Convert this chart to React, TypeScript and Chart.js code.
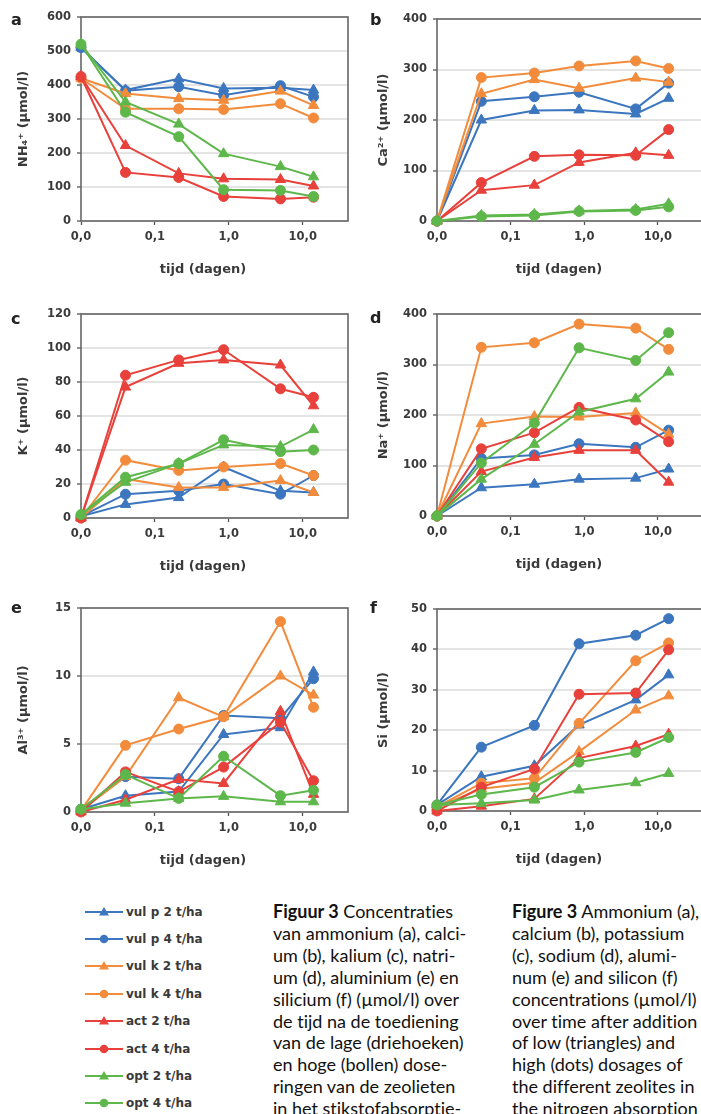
import React, { useEffect, useRef } from 'react';
import { Chart, registerables } from 'chart.js';

Chart.register(...registerables);

// ---------- data ----------
const times = [0.01, 0.04, 0.21, 0.85, 5, 14];
const xTickValues = [0.01, 0.1, 1, 10];
const xTickLabels = ['0,0', '0,1', '1,0', '10,0'];

const seriesNames = [
  'vul p 2 t/ha',
  'vul p 4 t/ha',
  'vul k 2 t/ha',
  'vul k 4 t/ha',
  'act 2 t/ha',
  'act 4 t/ha',
  'opt 2 t/ha',
  'opt 4 t/ha',
];
const seriesColors = ['#3b76bf', '#3b76bf', '#f28c3c', '#f28c3c', '#e8403a', '#e8403a', '#5db74a', '#5db74a'];
const seriesMarkers = ['triangle', 'circle', 'triangle', 'circle', 'triangle', 'circle', 'triangle', 'circle'];

const nh4Values = [
  [510, 385, 418, 390, 392, 385],
  [510, 383, 395, 370, 398, 365],
  [420, 375, 360, 355, 382, 340],
  [420, 330, 330, 328, 345, 303],
  [425, 222, 140, 124, 122, 103],
  [425, 143, 128, 72, 65, 70],
  [520, 350, 285, 198, 160, 130],
  [520, 320, 248, 92, 90, 72],
];
const caValues = [
  [0, 200, 219, 220, 212, 243],
  [0, 237, 246, 255, 222, 273],
  [0, 252, 280, 263, 283, 275],
  [0, 284, 293, 307, 317, 302],
  [0, 61, 71, 116, 135, 130],
  [0, 76, 128, 131, 130, 181],
  [0, 11, 13, 20, 23, 34],
  [0, 9, 11, 19, 21, 28],
];
const kValues = [
  [1, 8, 12, 30, 16, 15],
  [1, 14, 16, 20, 14, 25],
  [0, 23, 18, 18, 22, 15],
  [0, 34, 28, 30, 32, 25],
  [0, 77, 91, 93, 90, 66],
  [0, 84, 93, 99, 76, 71],
  [2, 21, 32, 43, 42, 52],
  [2, 24, 32, 46, 39, 40],
];
const naValues = [
  [0, 56, 63, 73, 75, 93],
  [0, 114, 121, 143, 136, 170],
  [0, 183, 197, 196, 204, 162],
  [0, 334, 343, 380, 372, 330],
  [0, 88, 116, 130, 130, 67],
  [0, 133, 165, 215, 190, 147],
  [0, 73, 142, 206, 232, 285],
  [0, 105, 184, 333, 308, 363],
];
const alValues = [
  [0.2, 1.2, 1.5, 5.7, 6.2, 10.3],
  [0.2, 2.6, 2.45, 7.1, 6.9, 9.8],
  [0.1, 2.6, 8.4, 7.0, 10.0, 8.6],
  [0.1, 4.9, 6.1, 7.0, 14.0, 7.7],
  [0, 0.9, 2.4, 2.1, 7.4, 1.3],
  [0, 2.95, 1.5, 3.3, 6.6, 2.3],
  [0.2, 0.65, 1.0, 1.15, 0.75, 0.75],
  [0.2, 2.75, 1.0, 4.1, 1.2, 1.6],
];
const siValues = [
  [1.5, 8.5, 11.2, 21.3, 27.5, 33.7],
  [1.5, 15.8, 21.2, 41.4, 43.5, 47.6],
  [1.0, 5.5, 7.0, 14.7, 25.0, 28.5],
  [1.0, 6.9, 8.1, 21.7, 37.2, 41.6],
  [0, 1.2, 3.0, 13.1, 16.1, 19.0],
  [0, 5.9, 10.4, 28.9, 29.2, 39.9],
  [1.5, 1.9, 2.7, 5.2, 7.0, 9.3],
  [1.5, 4.1, 5.9, 12.1, 14.5, 18.2],
];

const xTitle = 'tijd (dagen)';

const captionNl = [
  'van ammonium (a), calci-',
  'um (b), kalium (c), natri-',
  'um (d), aluminium (e) en',
  'silicium (f) (µmol/l) over',
  'de tijd na de toediening',
  'van de lage (driehoeken)',
  'en hoge (bollen) dose-',
  'ringen van de zeolieten',
  'in het stikstofabsorptie-',
];
const captionEn = [
  'calcium (b), potassium',
  '(c), sodium (d), alumi-',
  'num (e) and silicon (f)',
  'concentrations (µmol/l)',
  'over time after addition',
  'of low (triangles) and',
  'high (dots) dosages of',
  'the different zeolites in',
  'the nitrogen absorption',
];

// ---------- layout ----------
type PanelCfg = {
  letter: string;
  yTitle: string;
  yMax: number;
  yStep: number;
  values: number[][];
  left: number;
  top: number;
  width: number;
  plotLeft: number;
  plotRight: number;
  plotTop: number;
  plotBottom: number;
  letterX: number;
  letterBase: number;
};

const H = 295;
const leftCol = { left: 0, width: 355, plotLeft: 81, plotRight: 348, letterX: 11 };
const rightCol = { left: 360, width: 350, plotLeft: 77, plotRight: 345, letterX: 10 };

const panels: PanelCfg[] = [
  { letter: 'a', yTitle: 'NH₄⁺ (µmol/l)', yMax: 600, yStep: 100, values: nh4Values, top: 0, plotTop: 17, plotBottom: 221, letterBase: 25, ...leftCol },
  { letter: 'b', yTitle: 'Ca²⁺ (µmol/l)', yMax: 400, yStep: 100, values: caValues, top: 0, plotTop: 19, plotBottom: 221, letterBase: 25, ...rightCol },
  { letter: 'c', yTitle: 'K⁺ (µmol/l)', yMax: 120, yStep: 20, values: kValues, top: 297, plotTop: 17, plotBottom: 221, letterBase: 27, ...leftCol },
  { letter: 'd', yTitle: 'Na⁺ (µmol/l)', yMax: 400, yStep: 100, values: naValues, top: 297, plotTop: 17, plotBottom: 219, letterBase: 26, ...rightCol },
  { letter: 'e', yTitle: 'Al³⁺ (µmol/l)', yMax: 15, yStep: 5, values: alValues, top: 591, plotTop: 17, plotBottom: 221, letterBase: 22, ...leftCol },
  { letter: 'f', yTitle: 'Si (µmol/l)', yMax: 50, yStep: 10, values: siValues, top: 591, plotTop: 18, plotBottom: 220, letterBase: 22, ...rightCol },
];

const FONT = 'DejaVu Sans';
const TEXT = '#3a3a3a';

const decorPlugin = {
  id: 'decor',
  beforeDatasetsDraw(chart: any) {
    const { ctx, chartArea: a } = chart;
    ctx.save();
    ctx.strokeStyle = '#666';
    ctx.lineWidth = 1.6;
    ctx.strokeRect(a.left, a.top, a.right - a.left, a.bottom - a.top);
    ctx.restore();
  },
  afterDraw(chart: any, _args: any, opts: any) {
    const { ctx, chartArea: a } = chart;
    ctx.save();
    ctx.fillStyle = '#222';
    ctx.font = `bold 16px ${FONT}`;
    ctx.textAlign = 'left';
    ctx.textBaseline = 'alphabetic';
    ctx.fillText(opts.letter, opts.letterX, opts.letterBase);

    ctx.fillStyle = TEXT;
    ctx.font = `bold 13px ${FONT}`;
    ctx.textAlign = 'center';
    ctx.textBaseline = 'middle';
    ctx.fillText(xTitle, a.left + 122, a.bottom + 49);

    ctx.translate(24, (a.top + a.bottom) / 2);
    ctx.rotate(-Math.PI / 2);
    ctx.fillText(opts.yTitle, 0, 0);
    ctx.restore();
  },
};

function Panel({ cfg }: { cfg: PanelCfg }) {
  const ref = useRef<HTMLCanvasElement | null>(null);
  useEffect(() => {
    if (!ref.current) return;
    const W = cfg.width;
    const chart = new Chart(ref.current, {
      type: 'line',
      data: {
        datasets: seriesNames.map((name, i) => ({
          label: name,
          data: times.map((t, j) => ({ x: t, y: cfg.values[i][j] })),
          borderColor: seriesColors[i],
          backgroundColor: seriesColors[i],
          pointBackgroundColor: seriesColors[i],
          pointBorderColor: seriesColors[i],
          pointStyle: seriesMarkers[i] as any,
          pointRadius: seriesMarkers[i] === 'triangle' ? 6 : 5,
          pointBorderWidth: 1,
          borderWidth: 2,
          tension: 0,
          clip: false as any,
          order: 10 - i,
        })),
      },
      options: {
        animation: false,
        responsive: false,
        devicePixelRatio: 1,
        events: [],
        layout: { padding: { left: 0, right: W - cfg.plotRight, top: cfg.plotTop, bottom: 0 } },
        plugins: {
          legend: { display: false },
          tooltip: { enabled: false },
          decor: { letter: cfg.letter, letterX: cfg.letterX, letterBase: cfg.letterBase, yTitle: cfg.yTitle },
        } as any,
        scales: {
          x: {
            type: 'logarithmic',
            min: 0.01,
            max: 41,
            afterBuildTicks: (s: any) => {
              s.ticks = xTickValues.map((v) => ({ value: v }));
            },
            afterFit: (s: any) => {
              s.height = H - cfg.plotBottom;
            },
            border: { display: false },
            grid: { drawOnChartArea: false, drawTicks: true, tickLength: 4, tickColor: '#555', tickWidth: 1.3 },
            ticks: {
              autoSkip: false,
              maxRotation: 0,
              padding: 5,
              color: TEXT,
              font: { family: FONT, size: 11.5, weight: 'bold' },
              callback: (v: any) => xTickLabels[xTickValues.indexOf(Number(v))] ?? '',
            },
          },
          y: {
            type: 'linear',
            min: 0,
            max: cfg.yMax,
            afterFit: (s: any) => {
              s.width = cfg.plotLeft;
            },
            border: { display: false },
            grid: { color: '#e4e4e4', lineWidth: 2, drawTicks: true, tickLength: 4, tickColor: '#555', tickWidth: 1.3 },
            ticks: {
              stepSize: cfg.yStep,
              padding: 6,
              color: TEXT,
              font: { family: FONT, size: 11.5, weight: 'bold' },
            },
          },
        } as any,
      },
      plugins: [decorPlugin as any],
    });
    return () => chart.destroy();
  }, [cfg]);
  return (
    <canvas
      ref={ref}
      width={cfg.width}
      height={H}
      style={{ position: 'absolute', left: cfg.left, top: cfg.top, width: cfg.width, height: H }}
    />
  );
}

function LegendMarker({ i }: { i: number }) {
  const c = seriesColors[i];
  return (
    <svg width={41} height={14} style={{ display: 'block', flex: 'none' }}>
      <line x1={0} y1={7} x2={38} y2={7} stroke={c} strokeWidth={2} />
      {seriesMarkers[i] === 'triangle' ? (
        <polygon points="19,2 24,10.5 14,10.5" fill={c} />
      ) : (
        <circle cx={19} cy={7} r={4.3} fill={c} />
      )}
    </svg>
  );
}

const captionStyle: React.CSSProperties = {
  position: 'absolute',
  fontFamily: 'Lato, sans-serif',
  fontSize: 18,
  lineHeight: '21.9px',
  color: '#111',
  whiteSpace: 'nowrap',
  fontVariantLigatures: 'none',
  fontFeatureSettings: '"liga" 0',
};

export default function App() {
  return (
    <div
      style={{
        position: 'fixed',
        left: 0,
        top: 0,
        width: 701,
        height: 1114,
        overflow: 'hidden',
        background: '#fff',
      }}
    >
      {panels.map((p) => (
        <Panel key={p.letter} cfg={p} />
      ))}
      <div style={{ position: 'absolute', left: 85, top: 898 }}>
        {seriesNames.map((n, i) => (
          <div key={n} style={{ height: 27.4, display: 'flex', alignItems: 'center' }}>
            <LegendMarker i={i} />
            <span style={{ fontFamily: FONT, fontWeight: 'bold', fontSize: 12, color: TEXT, whiteSpace: 'nowrap' }}>{n}</span>
          </div>
        ))}
      </div>
      <div style={{ ...captionStyle, left: 273, top: 901 }}>
        <div>
          <b>Figuur 3</b> Concentraties
        </div>
        {captionNl.map((l) => (
          <div key={l}>{l}</div>
        ))}
      </div>
      <div style={{ ...captionStyle, left: 512, top: 901 }}>
        <div>
          <b>Figure 3</b> Ammonium (a),
        </div>
        {captionEn.map((l) => (
          <div key={l}>{l}</div>
        ))}
      </div>
    </div>
  );
}
